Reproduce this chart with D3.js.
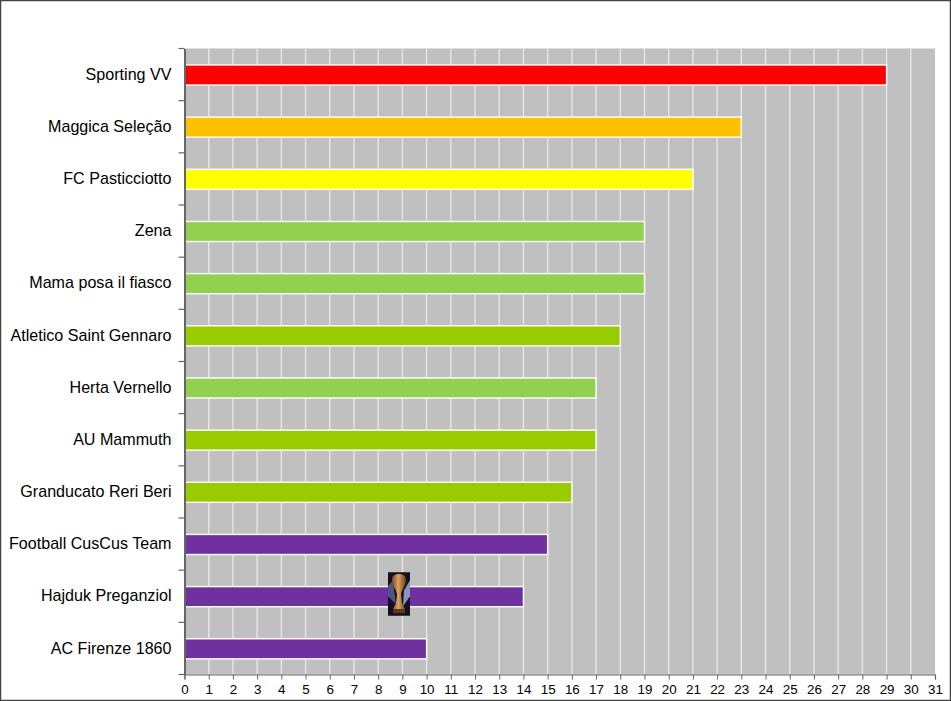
<!DOCTYPE html>
<html><head><meta charset="utf-8">
<script src="https://cdn.jsdelivr.net/npm/d3@7/dist/d3.min.js"></script>
<style>html,body{margin:0;padding:0;background:#fff}svg{display:block}text{font-family:"Liberation Sans",Arial,sans-serif;fill:#000}</style>
</head><body><svg id="c" width="951" height="701"></svg>
<script>
const teams=["Sporting VV","Maggica Seleção","FC Pasticciotto","Zena","Mama posa il fiasco","Atletico Saint Gennaro","Herta Vernello","AU Mammuth","Granducato Reri Beri","Football CusCus Team","Hajduk Preganziol","AC Firenze 1860"];
const points=[29,23,21,19,19,18,17,17,16,15,14,10];
const colors=["#ff0000","#ffc000","#ffff00","#92d050","#92d050","#99cc00","#92d050","#99cc00","#99cc00","#7030a0","#7030a0","#7030a0"];
const xTicks=d3.range(0,32);
const trophyAt={team:"Hajduk Preganziol",value:8.86};

const svg=d3.select("#c");
const L=184.5,R=935,T=48.5,B=674.5;
const x=d3.scaleLinear().domain([0,31]).range([L,R]);
const y=d3.scaleBand().domain(teams).range([T,B]).paddingInner(0.615).paddingOuter(0.3075);

svg.append("rect").attr("x",0.5).attr("y",0.5).attr("width",950).attr("height",700).attr("fill","#fff").attr("stroke","#444").attr("stroke-width",1.5);
svg.append("rect").attr("x",L).attr("y",T).attr("width",R-L).attr("height",B-T).attr("fill","#c0c0c0");
svg.append("g").selectAll("line").data(xTicks.slice(1,-1)).join("line")
 .attr("x1",d=>x(d)).attr("x2",d=>x(d)).attr("y1",T).attr("y2",B).attr("stroke","#e6e6e6").attr("stroke-width",1.4);

svg.append("g").selectAll("rect").data(teams).join("rect")
 .attr("x",L).attr("y",d=>y(d)+0.4).attr("width",(d,i)=>x(points[i])-L).attr("height",y.bandwidth())
 .attr("fill",(d,i)=>colors[i]).attr("stroke","#fff").attr("stroke-width",1.4);

// axes
const ax=svg.append("g").attr("transform",`translate(0,${B})`).call(d3.axisBottom(x).tickValues(xTicks).tickSize(5).tickPadding(4.5).tickFormat(d3.format("d")));
ax.selectAll("text").attr("font-size",13.4).attr("font-family","Liberation Sans");
ax.selectAll("line,path").attr("stroke","#666");
ax.select("path").attr("stroke-width",1.2);

const ya=svg.append("g").attr("transform",`translate(${L},0)`).call(d3.axisLeft(y).tickSize(0).tickPadding(13));
ya.selectAll("text").attr("font-size",16.1).attr("font-family","Liberation Sans");
ya.select("path").attr("stroke","#666").attr("stroke-width",2);
const step=(B-T)/12;
ya.append("g").selectAll("line").data(d3.range(0,13)).join("line")
 .attr("x1",-6).attr("x2",0).attr("y1",i=>T+i*step).attr("y2",i=>T+i*step).attr("stroke","#666").attr("stroke-width",1.2);

// trophy icon
const cx=x(trophyAt.value), cy=y(trophyAt.team)+y.bandwidth()/2-2;
const t=svg.append("g").attr("transform",`translate(${cx},${cy})`);
const defs=svg.append("defs");
const g=defs.append("linearGradient").attr("id","gold");
g.append("stop").attr("offset",0).attr("stop-color","#7a4a22");
g.append("stop").attr("offset",.45).attr("stop-color","#e0a060");
g.append("stop").attr("offset",1).attr("stop-color","#6a3c18");
t.append("rect").attr("x",-11).attr("y",-22).attr("width",22).attr("height",43.5).attr("fill","#14101f");
t.append("path").attr("d","M-11,-8L-6,-14L-3,10L-11,2Z").attr("fill","#4a5585");
t.append("path").attr("d","M11,-14L5,-4L4,12L11,2Z").attr("fill","#8a93bd");
t.append("path").attr("d","M-7,-15C-7,-22 7,-22 7,-15C7,-8 3,-6 2,0L3,9L6,15L-6,15L-3,9L-2,0C-3,-6 -7,-8 -7,-15Z").attr("fill","url(#gold)");
t.append("rect").attr("x",-6).attr("y",15).attr("width",12).attr("height",4).attr("fill","#5a3a1c");
</script></body></html>
